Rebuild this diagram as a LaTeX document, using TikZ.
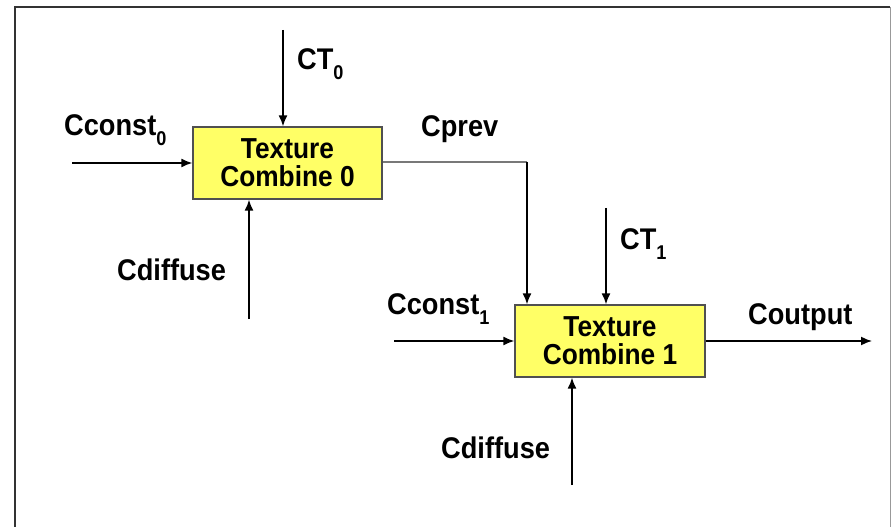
\documentclass[tikz,border=0pt]{standalone}
\usepackage{fontspec}
\setmainfont{Liberation Sans}[FakeStretch=0.91]
\usetikzlibrary{arrows.meta}
\definecolor{boxyellow}{RGB}{255,255,102}
\definecolor{boxedge}{RGB}{80,80,80}
\definecolor{prevline}{RGB}{120,120,120}
\newcommand\lowsub[1]{\raisebox{-10bp}{\fontsize{20}{20}\selectfont #1}}
\tikzset{
  combbox/.style={draw=boxedge, line width=1.3bp, fill=boxyellow, minimum width=189bp, minimum height=72bp,
    inner sep=0pt, align=center, font=\fontsize{29}{28.5}\selectfont\bfseries},
  lbl/.style={font=\fontsize{30}{30}\selectfont\bfseries, inner sep=0pt},
  conn/.style={line width=1.6bp, -{Latex[length=11bp,width=9bp]}},
  frameline/.style={line width=1.2bp}
}
\begin{document}
\begin{tikzpicture}[x=1bp,y=-1bp]
\useasboundingbox (0,0) rectangle (893,527);
\fill[white] (0,0) rectangle (893,527);
% frame
\draw[frameline, black!80] (15,527) -- (15,7) -- (890,7);
\draw[frameline, black!40] (890.5,7) -- (890.5,527);
% boxes
\node[combbox] (b0) at (287.5,163) {Texture\\Combine 0};
\node[combbox, minimum width=190bp] (b1) at (610,341) {Texture\\Combine 1};
% free ends
\coordinate (ct0) at (283,30);
\coordinate (cc0) at (72,163);
\coordinate (cd0) at (249,319);
\coordinate (pc) at (527,162);
\coordinate (ct1) at (606,208);
\coordinate (cc1) at (394,341);
\coordinate (out) at (872,341);
\coordinate (cd1) at (572,485);
% connectors
\draw[conn] (ct0) -- (ct0 |- b0.north);
\draw[conn] (cc0) -- (b0.west |- cc0);
\draw[conn] (cd0) -- (cd0 |- b0.south);
\draw[prevline, line width=1.6bp] (b0.east |- pc) -- (pc);
\draw[conn] (pc) -- (pc |- b1.north);
\draw[conn] (ct1) -- (ct1 |- b1.north);
\draw[conn] (cc1) -- (b1.west |- cc1);
\draw[conn] (b1.east |- out) -- (out);
\draw[conn] (cd1) -- (cd1 |- b1.south);
% labels
\node[lbl, anchor=base west] (l1) at (297,70) {CT\lowsub{0}};
\node[lbl, anchor=base west] (l2) at (64,136) {Cconst\lowsub{0}};
\node[lbl, anchor=base west] (l3) at (421,137) {Cprev};
\node[lbl, anchor=base west] (l4) at (117,281) {Cdiffuse};
\node[lbl, anchor=base west] (l5) at (620,250) {CT\lowsub{1}};
\node[lbl, anchor=base west] (l6) at (387,315) {Cconst\lowsub{1}};
\node[lbl, anchor=base west] (l7) at (748,325) {Coutput};
\node[lbl, anchor=base west] (l8) at (441,458) {Cdiffuse};
\end{tikzpicture}
\end{document}
